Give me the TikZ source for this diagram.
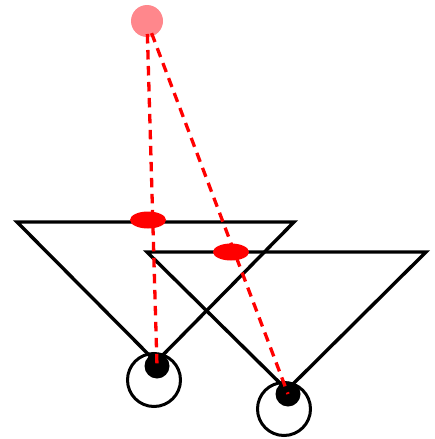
\documentclass[tikz,border=0pt]{standalone}
\usepackage{xcolor}
\definecolor{lampred}{RGB}{255,135,140}
\usetikzlibrary{shapes.geometric}
\begin{document}
\begin{tikzpicture}[
  x=1pt, y=-1pt,
  frustum/.style={draw=black,line width=3.4pt,line join=miter},
  lamp/.style={circle,fill=lampred,inner sep=0pt,minimum size=32pt},
  pupil/.style={circle,fill=black,inner sep=0pt,minimum size=25pt},
  lens/.style={circle,draw=black,line width=3pt,inner sep=0pt,minimum size=53pt},
  hit/.style={ellipse,fill=red,inner sep=0pt,minimum width=36pt,minimum height=17pt},
  ray/.style={draw=red,line width=3.3pt,dash pattern=on 9.5pt off 6.5pt},
]
  \useasboundingbox (0,0) rectangle (434,439);

  %% Light
  \node[lamp](L) at (147,21){};

  %% Camera A
  \coordinate (A1) at (17,222);
  \coordinate (A2) at (294,222);
  \coordinate (A3) at (156,362);
  \draw[frustum] (A1) -- (A2) -- (A3) -- cycle;
  \node[pupil](PA) at (157,366){};
  \node[lens](CA) at (154,380){};

  %% Camera B
  \coordinate (B1) at (147,252);
  \coordinate (B2) at (426,252);
  \coordinate (B3) at (287,390);
  \draw[frustum] (B1) -- (B2) -- (B3) -- cycle;
  \node[pupil](PB) at (288,394){};
  \node[lens](CB) at (284,409){};

  %% Image plane hits
  \node[hit](HA) at (148,220){};
  \node[hit](HB) at (231,252){};

  %% Rays
  \draw[ray,shorten <=13pt] (L.center) -- (PA.center);
  \draw[ray,shorten <=13pt] (L.center) -- (PB.center);
\end{tikzpicture}
\end{document}
